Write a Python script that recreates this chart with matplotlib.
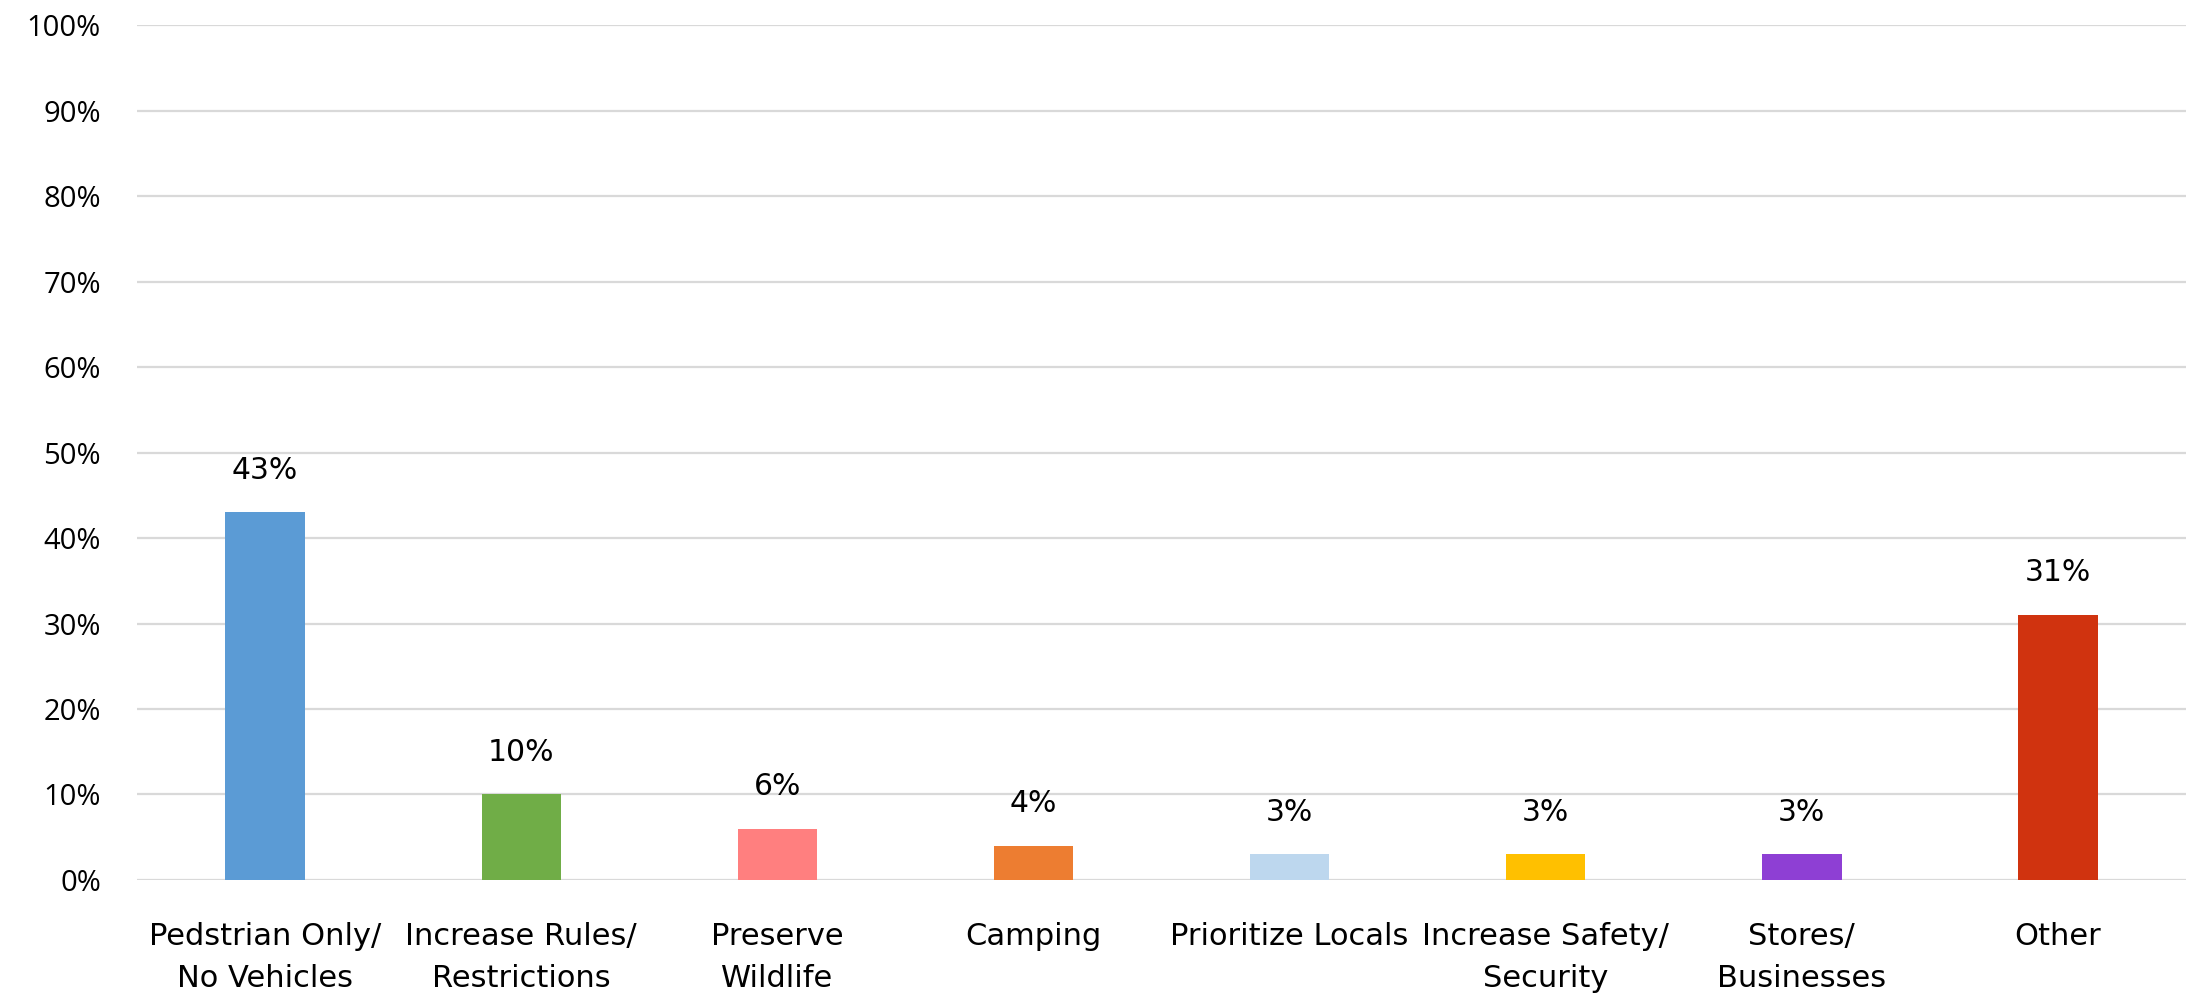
import matplotlib
matplotlib.use("Agg")
import matplotlib.pyplot as plt
from matplotlib.ticker import FuncFormatter

categories = ["Pedstrian Only/\nNo Vehicles", "Increase Rules/\nRestrictions", "Preserve\nWildlife",
              "Camping", "Prioritize Locals", "Increase Safety/\nSecurity", "Stores/\nBusinesses", "Other"]
values = [0.43, 0.10, 0.06, 0.04, 0.03, 0.03, 0.03, 0.31]
labels = ["43%", "10%", "6%", "4%", "3%", "3%", "3%", "31%"]
colors = ["#5b9bd5", "#70ad47", "#ff7f7f", "#ed7d31", "#bdd7ee", "#ffc000", "#8e3fd4", "#d0330f"]
yticks = [0, 0.1, 0.2, 0.3, 0.4, 0.5, 0.6, 0.7, 0.8, 0.9, 1.0]

plt.rcParams['font.family'] = ['Open Sans', 'DejaVu Sans']
wide = ['DejaVu Sans']

fig = plt.figure(figsize=(21.93, 9.93), dpi=100)
ax = fig.add_axes([0.0625, 0.1138, 0.9343, 0.861])

x = list(range(len(categories)))
ax.bar(x, values, width=0.31, color=colors, zorder=3)
for xi, v, lab in zip(x, values, labels):
    ax.annotate(lab, (xi, v), xytext=(0, 20), textcoords="offset points",
                ha="center", va="bottom", fontsize=21.5, family=wide, color="#000000")

ax.set_xlim(-0.5, len(categories) - 0.5)
ax.set_ylim(0, 1.0)
ax.set_yticks(yticks)
ax.yaxis.set_major_formatter(FuncFormatter(lambda v, p: f"{round(v*100)}%"))
ax.set_xticks(x)
ax.set_xticklabels(categories, fontsize=22, family=wide, linespacing=1.6)
ax.tick_params(axis="y", labelsize=21, length=0, pad=26)
ax.tick_params(axis="x", length=0, pad=30)
ax.grid(axis="y", color="#d9d9d9", linewidth=1.6, zorder=0)
ax.set_axisbelow(True)
for s in ax.spines.values():
    s.set_visible(False)

fig.savefig("out.png", dpi=100)
